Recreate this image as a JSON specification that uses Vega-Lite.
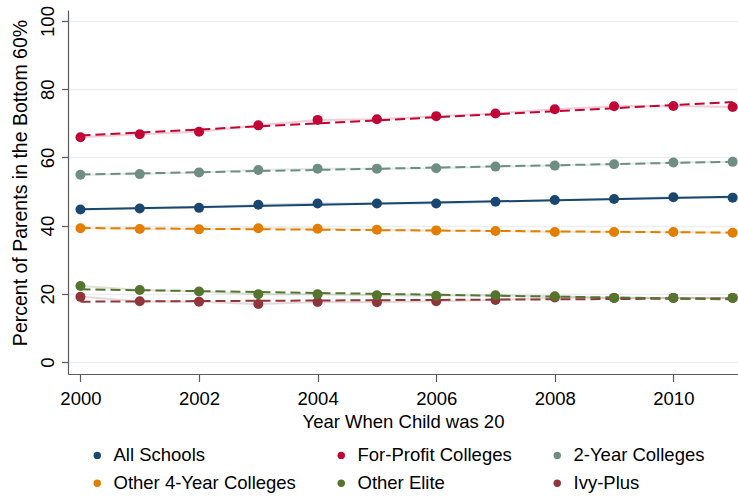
{
  "$schema": "https://vega.github.io/schema/vega-lite/v6.json",
  "width": 670,
  "height": 364,
  "autosize": {"type": "none"},
  "padding": {"left": 68, "top": 10, "right": 0, "bottom": 125},
  "background": "white",
  "config": {
    "view": {"stroke": null},
    "font": "Liberation Sans",
    "axis": {
      "labelFont": "Liberation Sans",
      "titleFont": "Liberation Sans",
      "labelFontSize": 18.5,
      "titleFontSize": 18.5,
      "titleFontWeight": "normal",
      "labelColor": "black",
      "titleColor": "black",
      "domainColor": "#5a5a5a",
      "tickColor": "#5a5a5a",
      "domainWidth": 1.2,
      "tickWidth": 1.2,
      "gridColor": "#e8eef1",
      "gridWidth": 1.5
    }
  },
  "data": {
    "values": [
      {"group": "All Schools", "year": 2000, "pct": 44.7},
      {"group": "All Schools", "year": 2001, "pct": 45.0},
      {"group": "All Schools", "year": 2002, "pct": 45.2},
      {"group": "All Schools", "year": 2003, "pct": 46.1},
      {"group": "All Schools", "year": 2004, "pct": 46.5},
      {"group": "All Schools", "year": 2005, "pct": 46.5},
      {"group": "All Schools", "year": 2006, "pct": 46.5},
      {"group": "All Schools", "year": 2007, "pct": 47.0},
      {"group": "All Schools", "year": 2008, "pct": 47.5},
      {"group": "All Schools", "year": 2009, "pct": 47.8},
      {"group": "All Schools", "year": 2010, "pct": 48.3},
      {"group": "All Schools", "year": 2011, "pct": 48.2},
      {"group": "For-Profit Colleges", "year": 2000, "pct": 65.9},
      {"group": "For-Profit Colleges", "year": 2001, "pct": 66.8},
      {"group": "For-Profit Colleges", "year": 2002, "pct": 67.5},
      {"group": "For-Profit Colleges", "year": 2003, "pct": 69.4},
      {"group": "For-Profit Colleges", "year": 2004, "pct": 71.0},
      {"group": "For-Profit Colleges", "year": 2005, "pct": 71.2},
      {"group": "For-Profit Colleges", "year": 2006, "pct": 72.1},
      {"group": "For-Profit Colleges", "year": 2007, "pct": 72.9},
      {"group": "For-Profit Colleges", "year": 2008, "pct": 74.1},
      {"group": "For-Profit Colleges", "year": 2009, "pct": 75.0},
      {"group": "For-Profit Colleges", "year": 2010, "pct": 75.1},
      {"group": "For-Profit Colleges", "year": 2011, "pct": 74.8},
      {"group": "2-Year Colleges", "year": 2000, "pct": 54.9},
      {"group": "2-Year Colleges", "year": 2001, "pct": 55.1},
      {"group": "2-Year Colleges", "year": 2002, "pct": 55.6},
      {"group": "2-Year Colleges", "year": 2003, "pct": 56.3},
      {"group": "2-Year Colleges", "year": 2004, "pct": 56.7},
      {"group": "2-Year Colleges", "year": 2005, "pct": 56.7},
      {"group": "2-Year Colleges", "year": 2006, "pct": 56.8},
      {"group": "2-Year Colleges", "year": 2007, "pct": 57.3},
      {"group": "2-Year Colleges", "year": 2008, "pct": 57.6},
      {"group": "2-Year Colleges", "year": 2009, "pct": 58.0},
      {"group": "2-Year Colleges", "year": 2010, "pct": 58.5},
      {"group": "2-Year Colleges", "year": 2011, "pct": 58.7},
      {"group": "Other 4-Year Colleges", "year": 2000, "pct": 39.2},
      {"group": "Other 4-Year Colleges", "year": 2001, "pct": 39.0},
      {"group": "Other 4-Year Colleges", "year": 2002, "pct": 38.9},
      {"group": "Other 4-Year Colleges", "year": 2003, "pct": 39.2},
      {"group": "Other 4-Year Colleges", "year": 2004, "pct": 39.1},
      {"group": "Other 4-Year Colleges", "year": 2005, "pct": 38.8},
      {"group": "Other 4-Year Colleges", "year": 2006, "pct": 38.6},
      {"group": "Other 4-Year Colleges", "year": 2007, "pct": 38.4},
      {"group": "Other 4-Year Colleges", "year": 2008, "pct": 38.1},
      {"group": "Other 4-Year Colleges", "year": 2009, "pct": 38.1},
      {"group": "Other 4-Year Colleges", "year": 2010, "pct": 38.1},
      {"group": "Other 4-Year Colleges", "year": 2011, "pct": 37.9},
      {"group": "Ivy-Plus", "year": 2000, "pct": 19.1},
      {"group": "Ivy-Plus", "year": 2001, "pct": 17.8},
      {"group": "Ivy-Plus", "year": 2002, "pct": 17.7},
      {"group": "Ivy-Plus", "year": 2003, "pct": 17.0},
      {"group": "Ivy-Plus", "year": 2004, "pct": 17.6},
      {"group": "Ivy-Plus", "year": 2005, "pct": 17.5},
      {"group": "Ivy-Plus", "year": 2006, "pct": 17.8},
      {"group": "Ivy-Plus", "year": 2007, "pct": 18.2},
      {"group": "Ivy-Plus", "year": 2008, "pct": 18.9},
      {"group": "Ivy-Plus", "year": 2009, "pct": 18.8},
      {"group": "Ivy-Plus", "year": 2010, "pct": 18.8},
      {"group": "Ivy-Plus", "year": 2011, "pct": 18.8},
      {"group": "Other Elite", "year": 2000, "pct": 22.3},
      {"group": "Other Elite", "year": 2001, "pct": 21.1},
      {"group": "Other Elite", "year": 2002, "pct": 20.7},
      {"group": "Other Elite", "year": 2003, "pct": 19.9},
      {"group": "Other Elite", "year": 2004, "pct": 19.9},
      {"group": "Other Elite", "year": 2005, "pct": 19.6},
      {"group": "Other Elite", "year": 2006, "pct": 19.4},
      {"group": "Other Elite", "year": 2007, "pct": 19.6},
      {"group": "Other Elite", "year": 2008, "pct": 19.3},
      {"group": "Other Elite", "year": 2009, "pct": 18.8},
      {"group": "Other Elite", "year": 2010, "pct": 18.8},
      {"group": "Other Elite", "year": 2011, "pct": 18.8}
    ]
  },
  "encoding": {
    "x": {
      "field": "year",
      "type": "quantitative",
      "scale": {"domain": [1999.79, 2011.09], "nice": false, "zero": false},
      "axis": {
        "values": [2000, 2002, 2004, 2006, 2008, 2010],
        "format": "d",
        "grid": false,
        "tickSize": 7.5,
        "labelPadding": 8,
        "title": "Year When Child was 20",
        "titleY": 38,
        "titleBaseline": "top"
      }
    },
    "y": {
      "field": "pct",
      "type": "quantitative",
      "scale": {"domain": [-3.52, 103.23], "nice": false, "zero": false},
      "axis": {
        "values": [0, 20, 40, 60, 80, 100],
        "grid": true,
        "tickSize": 6.5,
        "labelAngle": 270,
        "labelAlign": "center",
        "labelBaseline": "alphabetic",
        "labelPadding": 8,
        "title": "Percent of Parents in the Bottom 60%",
        "titleFontSize": 19.5,
        "titleAngle": 270,
        "titleAlign": "center",
        "titleBaseline": "middle",
        "titleX": -48,
        "titleY": 172.5
      }
    },
    "color": {
      "field": "group",
      "type": "nominal",
      "scale": {
        "domain": ["All Schools", "For-Profit Colleges", "2-Year Colleges", "Other 4-Year Colleges", "Other Elite", "Ivy-Plus"],
        "range": ["#1a476f", "#c10534", "#6e8e84", "#e37e00", "#55752f", "#90353b"]
      },
      "legend": {
        "orient": "none",
        "legendX": 20,
        "legendY": 436,
        "direction": "horizontal",
        "columns": 3,
        "title": null,
        "labelFont": "Liberation Sans",
        "labelFontSize": 18.5,
        "labelColor": "black",
        "labelLimit": 400,
        "labelOffset": 7,
        "symbolType": "circle",
        "symbolSize": 55,
        "symbolOpacity": 1,
        "symbolStrokeWidth": 0,
        "columnPadding": 36,
        "rowPadding": 9,
        "encode": {
          "symbols": {
            "update": {
              "fill": {"scale": "color", "field": "value"},
              "strokeWidth": {"value": 0},
              "opacity": {"value": 1}
            }
          }
        }
      }
    }
  },
  "layer": [
    {
      "mark": {"type": "line", "strokeWidth": 2, "opacity": 0.2}
    },
    {
      "transform": [
        {"filter": "datum.group === 'All Schools'"},
        {"regression": "pct", "on": "year", "groupby": ["group"]}
      ],
      "mark": {"type": "line", "strokeWidth": 2}
    },
    {
      "transform": [
        {"filter": "datum.group !== 'All Schools'"},
        {"regression": "pct", "on": "year", "groupby": ["group"]}
      ],
      "mark": {"type": "line", "strokeWidth": 2, "strokeDash": [10, 5]}
    },
    {
      "mark": {"type": "circle", "size": 100, "opacity": 1}
    }
  ]
}
